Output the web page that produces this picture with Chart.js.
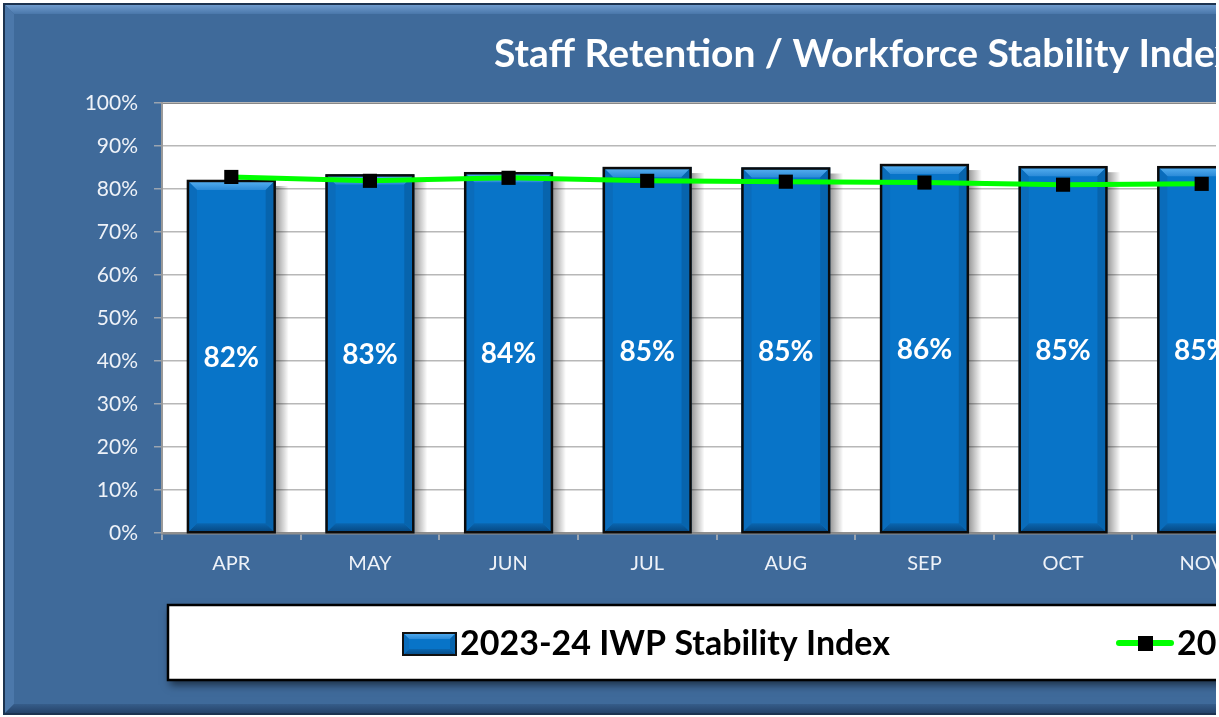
<!DOCTYPE html>
<html>
<head>
<meta charset="utf-8">
<script src="https://cdn.jsdelivr.net/npm/chart.js@4.4.1/dist/chart.umd.min.js"></script>
<style>
  html, body { margin: 0; padding: 0; background: #ffffff; overflow: hidden; }
  #wrap { position: absolute; left: 0; top: 0; width: 1216px; height: 717px; overflow: hidden; }
  canvas { display: block; }
</style>
</head>
<body>
<div id="wrap"><canvas id="c" width="1300" height="717"></canvas></div>
<script>
// ---- data ----
const months = ['APR', 'MAY', 'JUN', 'JUL', 'AUG', 'SEP', 'OCT', 'NOV'];
const stability2324 = [82.1, 83.4, 83.9, 85.1, 85.0, 85.8, 85.3, 85.3];
const stability2223 = [82.8, 81.9, 82.6, 81.9, 81.7, 81.5, 81.0, 81.2];
const yTicks = [0, 10, 20, 30, 40, 50, 60, 70, 80, 90, 100];
const chartTitle = 'Staff Retention / Workforce Stability Index';
const barLabel = '2023-24 IWP Stability Index';
const lineLabel = '2022-23 IWP Stability Index';

const W = 1300, H = 717;
const FONT = 'Lato, "Open Sans", sans-serif';

const framePlugin = {
  id: 'frame',
  beforeDraw(chart) {
    const ctx = chart.ctx;
    ctx.save();
    ctx.fillStyle = '#ffffff';
    ctx.fillRect(0, 0, W, H);
    const x0 = 3, y0 = 3, x1 = W - 3, y1 = 715;
    ctx.fillStyle = '#1c3350';
    ctx.fillRect(x0, y0, x1 - x0, y1 - y0);
    const a = 5, b = 713, bv = 9;
    ctx.fillStyle = '#3f6a9a';
    ctx.fillRect(a, a, x1 - 2 - a, b - a);
    // top bevel
    let g = ctx.createLinearGradient(0, a, 0, a + bv);
    g.addColorStop(0, '#6f9bcd'); g.addColorStop(1, '#4a77aa');
    ctx.fillStyle = g;
    ctx.beginPath(); ctx.moveTo(a, a); ctx.lineTo(x1 - 2, a); ctx.lineTo(x1 - 2 - bv, a + bv); ctx.lineTo(a + bv, a + bv); ctx.closePath(); ctx.fill();
    // left bevel
    ctx.fillStyle = '#4c78aa';
    ctx.beginPath(); ctx.moveTo(a, a); ctx.lineTo(a + bv, a + bv); ctx.lineTo(a + bv, b - bv); ctx.lineTo(a, b); ctx.closePath(); ctx.fill();
    // bottom bevel
    g = ctx.createLinearGradient(0, b - bv, 0, b);
    g.addColorStop(0, '#365d8a'); g.addColorStop(1, '#25436a');
    ctx.fillStyle = g;
    ctx.beginPath(); ctx.moveTo(a, b); ctx.lineTo(a + bv, b - bv); ctx.lineTo(x1 - 2 - bv, b - bv); ctx.lineTo(x1 - 2, b); ctx.closePath(); ctx.fill();
    // plot area
    const ca = chart.chartArea;
    ctx.fillStyle = '#ffffff';
    ctx.fillRect(ca.left, ca.top, ca.right - ca.left, ca.bottom - ca.top);
    ctx.strokeStyle = '#222222';
    ctx.lineWidth = 1.5;
    ctx.beginPath(); ctx.moveTo(ca.left, ca.top); ctx.lineTo(ca.right, ca.top); ctx.stroke();
    // title
    ctx.fillStyle = '#ffffff';
    ctx.font = 'bold 39px ' + FONT;
    ctx.textAlign = 'left';
    ctx.textBaseline = 'alphabetic';
    ctx.fillText(chartTitle, 494, 67);
    ctx.restore();
  }
};

function drawBevelRect(ctx, l, t, r, btm, bv) {
  ctx.fillStyle = '#0874c8';
  ctx.fillRect(l, t, r - l, btm - t);
  // top light band
  let g = ctx.createLinearGradient(0, t, 0, t + bv);
  g.addColorStop(0, '#52acee'); g.addColorStop(1, '#2a8ad8');
  ctx.fillStyle = g;
  ctx.beginPath(); ctx.moveTo(l, t); ctx.lineTo(r, t); ctx.lineTo(r - bv, t + bv); ctx.lineTo(l + bv, t + bv); ctx.closePath(); ctx.fill();
  // bottom dark band
  g = ctx.createLinearGradient(0, btm - bv, 0, btm);
  g.addColorStop(0, '#0a66b0'); g.addColorStop(1, '#064a85');
  ctx.fillStyle = g;
  ctx.beginPath(); ctx.moveTo(l, btm); ctx.lineTo(l + bv, btm - bv); ctx.lineTo(r - bv, btm - bv); ctx.lineTo(r, btm); ctx.closePath(); ctx.fill();
  // left band
  ctx.fillStyle = '#0a6cbb';
  ctx.beginPath(); ctx.moveTo(l, t); ctx.lineTo(l + bv, t + bv); ctx.lineTo(l + bv, btm - bv); ctx.lineTo(l, btm); ctx.closePath(); ctx.fill();
  // right band
  ctx.fillStyle = '#0764ad';
  ctx.beginPath(); ctx.moveTo(r, t); ctx.lineTo(r - bv, t + bv); ctx.lineTo(r - bv, btm - bv); ctx.lineTo(r, btm); ctx.closePath(); ctx.fill();
}

const barStylePlugin = {
  id: 'barStyle',
  beforeDatasetDraw(chart, args) {
    if (args.index !== 0) return;
    const ctx = chart.ctx;
    const meta = chart.getDatasetMeta(0);
    ctx.save();
    meta.data.forEach(el => {
      const r = el.x + el.width / 2;
      const g = ctx.createLinearGradient(r, 0, r + 13, 0);
      g.addColorStop(0, 'rgba(0,0,0,0.4)'); g.addColorStop(1, 'rgba(0,0,0,0)');
      ctx.fillStyle = g;
      ctx.fillRect(r, el.y + 6, 13, el.base - el.y - 6);
    });
    ctx.restore();
  },
  afterDatasetDraw(chart, args) {
    if (args.index !== 0) return;
    const ctx = chart.ctx;
    const meta = chart.getDatasetMeta(0);
    ctx.save();
    meta.data.forEach((el, i) => {
      const l = el.x - el.width / 2, r = el.x + el.width / 2;
      drawBevelRect(ctx, l + 2, el.y + 2, r - 2, el.base - 1, 8);
      ctx.strokeStyle = '#0b0b0b';
      ctx.lineWidth = 2.5;
      ctx.strokeRect(l + 1, el.y + 1, r - l - 2, el.base - el.y - 1);
      // value label
      ctx.fillStyle = '#ffffff';
      ctx.font = 'bold 28px ' + FONT;
      ctx.textAlign = 'center';
      ctx.textBaseline = 'alphabetic';
      const v = chart.data.datasets[0].data[i];
      ctx.fillText(Math.round(v) + '%', el.x, (el.y + el.base) / 2 + 11);
    });
    ctx.restore();
  }
};

const legendPlugin = {
  id: 'customLegend',
  afterDraw(chart) {
    const ctx = chart.ctx;
    const ds = chart.data.datasets;
    ctx.save();
    // box
    ctx.shadowColor = 'rgba(0,0,0,0.55)';
    ctx.shadowBlur = 8;
    ctx.shadowOffsetX = 2;
    ctx.shadowOffsetY = 5;
    ctx.fillStyle = '#ffffff';
    ctx.fillRect(168, 605, W - 168 - 20, 75);
    ctx.shadowColor = 'transparent';
    ctx.strokeStyle = '#000000';
    ctx.lineWidth = 2.5;
    ctx.strokeRect(168, 605, W - 168 - 20, 75);
    // item 1: bar swatch
    drawBevelRect(ctx, 403, 633, 456, 655, 6);
    ctx.strokeStyle = '#111';
    ctx.lineWidth = 2;
    ctx.strokeRect(403, 633, 53, 22);
    ctx.fillStyle = '#000000';
    ctx.font = 'bold 34px ' + FONT;
    ctx.textAlign = 'left';
    ctx.textBaseline = 'alphabetic';
    ctx.fillText(ds[0].label, 460, 655);
    // item 2: line swatch
    ctx.strokeStyle = ds[1].borderColor;
    ctx.lineWidth = 6;
    ctx.lineCap = 'round';
    ctx.beginPath(); ctx.moveTo(1119, 643); ctx.lineTo(1171, 643); ctx.stroke();
    ctx.fillStyle = '#000000';
    ctx.fillRect(1138, 636, 15, 15);
    ctx.fillText(ds[1].label, 1177, 655);
    ctx.restore();
  }
};

const chart = new Chart(document.getElementById('c'), {
  type: 'bar',
  data: {
    labels: months,
    datasets: [
      {
        type: 'bar',
        label: barLabel,
        data: stability2324,
        backgroundColor: '#0874c8',
        borderColor: '#000000',
        borderWidth: 0,
        barPercentage: 0.64,
        categoryPercentage: 1.0,
        order: 2
      },
      {
        type: 'line',
        label: lineLabel,
        data: stability2223,
        borderColor: '#00ff00',
        borderWidth: 5,
        tension: 0,
        pointStyle: 'rect',
        pointRadius: 10,
        pointBackgroundColor: '#000000',
        pointBorderColor: '#000000',
        pointBorderWidth: 0,
        order: 1
      }
    ]
  },
  options: {
    responsive: false,
    devicePixelRatio: 1,
    animation: false,
    layout: { padding: { top: 103, left: 0, right: W - 1271, bottom: 124 } },
    plugins: {
      legend: { display: false },
      title: { display: false },
      tooltip: { enabled: false }
    },
    scales: {
      x: {
        afterFit(scale) { scale.height = 60; },
        grid: {
          display: true,
          drawOnChartArea: false,
          drawTicks: true,
          tickLength: 7,
          color: '#9aa4b0',
          lineWidth: 2,
          offset: true
        },
        border: { display: true, color: '#8f8f8f', width: 2.5 },
        ticks: {
          color: '#eef2f8',
          font: { family: FONT, size: 20 },
          padding: 12
        }
      },
      y: {
        min: 0,
        max: 100,
        afterFit(scale) { scale.width = 162; },
        afterBuildTicks(scale) { scale.ticks = yTicks.map(v => ({ value: v })); },
        grid: {
          color: '#b8b8b8',
          lineWidth: 1.5,
          tickLength: 8,
          tickColor: '#9aa4b0'
        },
        border: { display: true, color: '#9a9a9a', width: 2 },
        ticks: {
          color: '#eef2f8',
          font: { family: FONT, size: 21 },
          padding: 16,
          callback: v => v + '%'
        }
      }
    }
  },
  plugins: [framePlugin, barStylePlugin, legendPlugin]
});
</script>
</body>
</html>
